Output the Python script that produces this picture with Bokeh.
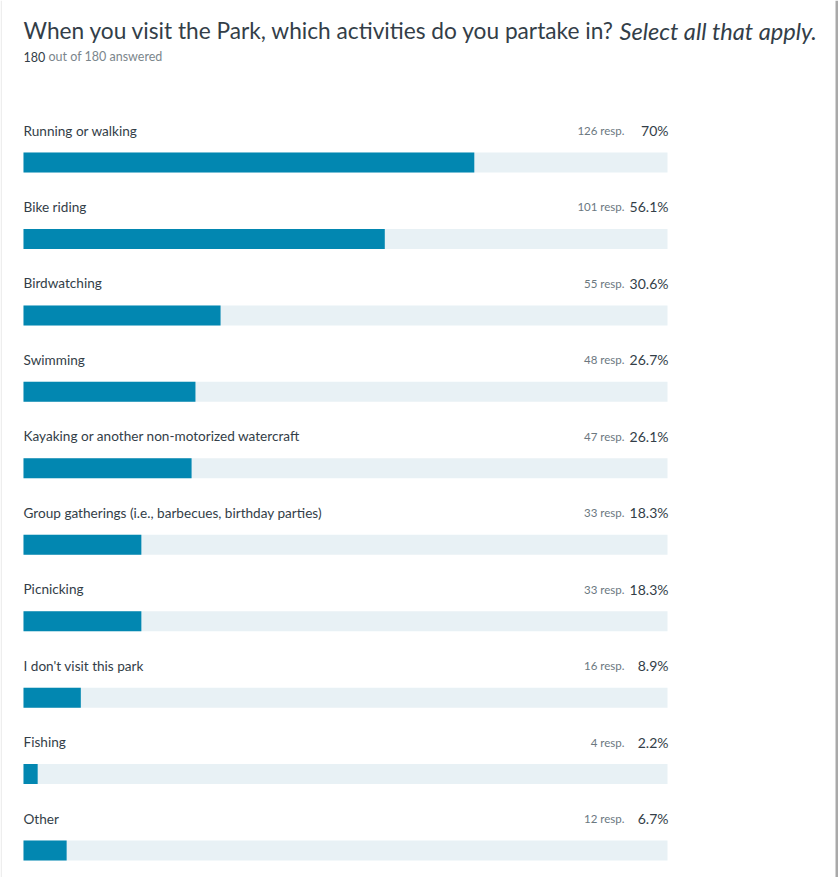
from bokeh.plotting import figure
from bokeh.models import Range1d, ColumnDataSource
from bokeh.core.properties import value
from bokeh.embed import file_html
from bokeh.resources import INLINE

# ---- data ----
categories = [
    "Running or walking",
    "Bike riding",
    "Birdwatching",
    "Swimming",
    "Kayaking or another non-motorized watercraft",
    "Group gatherings (i.e., barbecues, birthday parties)",
    "Picnicking",
    "I don't visit this park",
    "Fishing",
    "Other",
]
responses = [126, 101, 55, 48, 47, 33, 33, 16, 4, 12]
percents = [70, 56.1, 30.6, 26.7, 26.1, 18.3, 18.3, 8.9, 2.2, 6.7]
pct_labels = ["70%", "56.1%", "30.6%", "26.7%", "26.1%", "18.3%", "18.3%", "8.9%", "2.2%", "6.7%"]
answered = 180
total = 180

title_main = "When you visit the Park, which activities do you partake in?"
title_italic = "Select all that apply."

# ---- layout ----
W, H = 838, 877
LEFT = 23.0
SCALE = 6.44  # px per percent


def px(x):
    return (x - LEFT) / SCALE


FONT = "Lato"
ROW0 = 162.0
STEP = 76.45

n = len(categories)
bar_y = [ROW0 + STEP * i for i in range(n)]
label_y = [y - 32 for y in bar_y]

src = ColumnDataSource(dict(
    cat=categories,
    pct=percents,
    full=[100] * n,
    resp=[f"{r} resp." for r in responses],
    pl=pct_labels,
    by=bar_y,
    ly=label_y,
))

p = figure(width=W, height=H, output_backend="svg", toolbar_location=None,
           x_range=Range1d(px(0), px(W)), y_range=Range1d(H, 0),
           min_border=0, min_border_left=0, min_border_right=0,
           min_border_top=0, min_border_bottom=0)
p.axis.visible = False
p.grid.visible = False
p.outline_line_color = None
p.background_fill_color = "white"
p.border_fill_color = "white"

# track
p.hbar(y="by", left=0, right="full", height=20, source=src,
       fill_color="#e8f1f5", line_color=None)
# value bar
p.hbar(y="by", left=0, right="pct", height=20, source=src,
       fill_color="#0287b1", line_color=None)

# category labels
p.text(x=0, y="ly", text="cat", source=src, text_font=value(FONT),
       text_font_size="13.6px", text_color="#333e48", text_baseline="middle",
       text_align="left")
# responses
p.text(x=px(624), y="ly", text="resp", source=src, text_font=value(FONT),
       text_font_size="11.5px", text_color="#6b787f", text_baseline="middle",
       text_align="right")
# percent
p.text(x=px(668), y="ly", text="pl", source=src, text_font=value(FONT),
       text_font_size="14px", text_color="#333e48", text_baseline="middle",
       text_align="right")

# title
p.text(x=[px(23)], y=[30], text=[title_main], text_font=value(FONT),
       text_font_size="22.7px", text_color="#333e48", text_baseline="alphabetic",
       text_align="left")
p.text(x=[px(619)], y=[30], text=[title_italic], text_font=value(FONT),
       text_font_size="23.6px", text_font_style="italic", text_color="#333e48",
       text_baseline="alphabetic", text_align="left")

# subtitle
p.text(x=[px(23)], y=[56], text=[str(answered)], text_font=value(FONT),
       text_font_size="12.5px", text_color="#333e48", text_baseline="middle",
       text_align="left")
p.text(x=[px(48)], y=[56], text=[f"out of {total} answered"], text_font=value(FONT),
       text_font_size="12.5px", text_color="#7b868c", text_baseline="middle",
       text_align="left")

# frame edges
p.quad(left=[px(835)], right=[px(838)], top=[0], bottom=[H],
       fill_color="#a9a9a9", line_color=None)
p.quad(left=[px(0)], right=[px(1.5)], top=[0], bottom=[H],
       fill_color="#eeeeee", line_color=None)

open("out.html", "w").write(file_html(p, INLINE))
